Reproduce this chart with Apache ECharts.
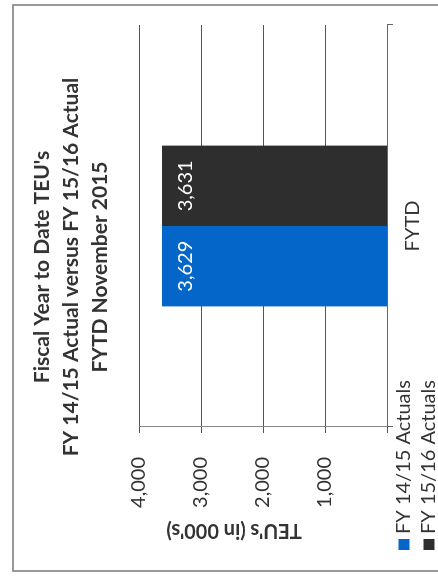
<!DOCTYPE html>
<html>
<head>
<meta charset="utf-8" />
<title>Fiscal Year to Date TEU's</title>
<script src="https://cdn.jsdelivr.net/npm/echarts@6.0.0/dist/echarts.min.js"></script>
<style>
  html,
  body {
    margin: 0;
    padding: 0;
    background: #fff;
  }
  .page {
    position: relative;
    width: 438px;
    height: 579px;
    overflow: hidden;
  }
  /* the scanned page is turned a quarter to the left */
  #chart {
    position: absolute;
    left: 0;
    top: 0;
    width: 579px;
    height: 438px;
    transform-origin: 0 0;
    transform: translateY(579px) rotate(-90deg);
  }
</style>
</head>
<body>
<div class="page">
  <div id="chart"></div>
</div>
<script>
  const categories = ["FYTD"];
  const seriesNames = ["FY 14/15 Actuals", "FY 15/16 Actuals"];
  const fy1415 = [3629];
  const fy1516 = [3631];
  const yTicks = [0, 1000, 2000, 3000, 4000];

  const textColor = "#333";
  const font = "Lato, 'Open Sans', sans-serif";

  const fmt = (v) => Number(v).toLocaleString("en-US");

  const chart = echarts.init(document.getElementById("chart"));

  // one legend per row, so the two entries stack like the original
  const legendRow = (name, top) => ({
    data: [name],
    left: 29,
    top: top,
    padding: 0,
    itemWidth: 11,
    itemHeight: 11,
    itemTextGap: 3,
    icon: "rect",
    textStyle: {
      fontFamily: font,
      fontSize: 20,
      color: textColor,
    },
  });

  const option = {
    backgroundColor: "#fff",
    animation: false,
    textStyle: { fontFamily: font },
    title: {
      text: "Fiscal Year to Date TEU's\nFY 14/15 Actual versus FY 15/16 Actual\nFYTD November 2015",
      left: 312,
      top: 28,
      padding: 0,
      textAlign: "center",
      textStyle: {
        fontFamily: font,
        fontSize: 21,
        fontWeight: "bold",
        lineHeight: 29,
        color: textColor,
      },
    },
    legend: [legendRow(seriesNames[0], 394), legendRow(seriesNames[1], 419)],
    grid: {
      left: 152,
      right: 25,
      top: 139,
      bottom: 51,
    },
    xAxis: {
      type: "category",
      data: categories,
      axisLine: { lineStyle: { color: "#666", width: 1 } },
      axisTick: { show: true, length: 6, lineStyle: { color: "#666" } },
      axisLabel: {
        margin: 16,
        fontSize: 20,
        color: textColor,
      },
    },
    yAxis: {
      type: "value",
      min: yTicks[0],
      max: yTicks[yTicks.length - 1],
      interval: yTicks[1] - yTicks[0],
      name: "TEU's (in 000's)",
      nameLocation: "middle",
      nameGap: 93,
      nameTextStyle: {
        fontFamily: font,
        fontSize: 20,
        fontWeight: "bold",
        color: textColor,
        padding: [0, 0, 0, 58],
      },
      axisLine: { show: true, lineStyle: { color: "#888", width: 1 } },
      axisTick: { show: true, length: 6, lineStyle: { color: "#555" } },
      axisLabel: {
        margin: 30,
        fontSize: 20,
        color: textColor,
        formatter: (v) => (v === 0 ? "" : fmt(v)),
      },
      splitLine: { lineStyle: { color: "#555", width: 1 } },
    },
    series: [
      {
        name: seriesNames[0],
        type: "bar",
        data: fy1415,
        barGap: 0,
        barCategoryGap: "60%",
        itemStyle: { color: "#0566c9" },
        label: {
          show: true,
          position: "insideTop",
          distance: 14,
          fontSize: 20,
          color: "#fff",
          formatter: (p) => fmt(p.value),
        },
      },
      {
        name: seriesNames[1],
        type: "bar",
        data: fy1516,
        barGap: 0,
        barCategoryGap: "60%",
        itemStyle: { color: "#2e2e2e" },
        label: {
          show: true,
          position: "insideTop",
          distance: 14,
          fontSize: 20,
          color: "#fff",
          formatter: (p) => fmt(p.value),
        },
      },
    ],
    graphic: [
      {
        type: "rect",
        silent: true,
        shape: { x: 8, y: 13, width: 566, height: 440 },
        style: { fill: null, stroke: "#777", lineWidth: 1.5 },
      },
    ],
  };

  chart.setOption(option);
</script>
</body>
</html>
